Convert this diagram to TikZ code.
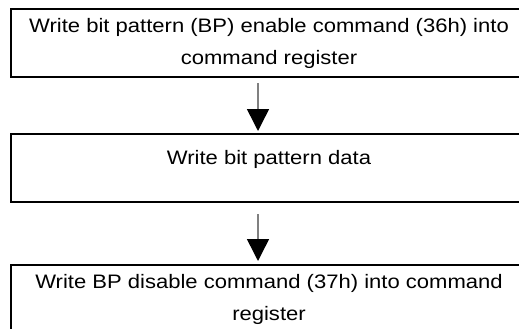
\documentclass[tikz,border=0pt]{standalone}
\usepackage{fontspec}
\setmainfont{Liberation Sans}[FakeStretch=1.13]
\usetikzlibrary{arrows.meta}
\definecolor{shaft}{RGB}{128,128,128}
\begin{document}
\begin{tikzpicture}[x=1pt,y=-1pt,
  box/.style={draw=black, line width=2pt, minimum width=516pt, minimum height=68pt,
    inner sep=0pt, align=center, font=\fontsize{19.5}{32}\selectfont},
  flow/.style={draw=shaft, line width=1.5pt,
    -{Triangle[length=22pt,width=22pt,color=black]}}]
\useasboundingbox (0,0) rectangle (519,329);
\clip (0,0) rectangle (519,329);
\node[box] (b1) at (269,43) {Write bit pattern (BP) enable command (36h) into\\command register};
\node[box, text height=14pt, text depth=22pt] (b2) at (269,168) {Write bit pattern data};
\node[box] (b3) at (269,299) {Write BP disable command (37h) into command\\register};
\coordinate (ax) at (258,0);
\draw[flow, shorten <=5pt, shorten >=2pt] (b1.south -| ax) -- (b2.north -| ax);
\draw[flow, shorten <=11pt, shorten >=3pt] (b2.south -| ax) -- (b3.north -| ax);
\end{tikzpicture}
\end{document}
